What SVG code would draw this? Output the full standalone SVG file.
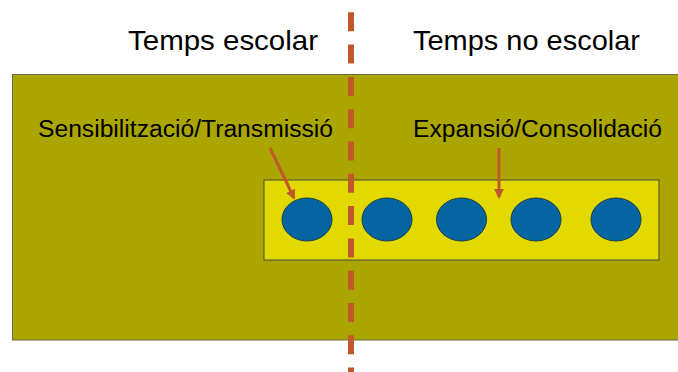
<svg xmlns="http://www.w3.org/2000/svg" width="678" height="372" viewBox="0 0 678 372">
<defs>
<style>
.t{font-family:"Liberation Sans",Arial,sans-serif;fill:#000}
.h{font-size:28px}
.l{font-size:23px}
.dot{fill:#0565A0;stroke:#1a3a4a;stroke-width:1}
.arr{stroke:#C0582A;stroke-width:3;fill:none}
</style>
<marker id="ah" viewBox="0 0 10 10" refX="8" refY="5" markerWidth="3.3" markerHeight="3.3" orient="auto"><path d="M0,0 L10,5 L0,10 z" fill="#C0582A"/></marker>
</defs>
<rect width="678" height="372" fill="#fff"/>
<g id="background">
<rect x="12.5" y="74.5" width="680" height="265.5" fill="#ABA500" stroke="#6b6a50" stroke-width="1"/>
</g>
<g id="band">
<rect x="264" y="180" width="395" height="80" fill="#E1D900" stroke="#4a4a30" stroke-width="1"/>
</g>
<g id="circles">
<ellipse class="dot" cx="307" cy="219.5" rx="25" ry="21.5"/>
<ellipse class="dot" cx="387" cy="219.5" rx="25" ry="21.5"/>
<ellipse class="dot" cx="461.5" cy="219.5" rx="25" ry="21.5"/>
<ellipse class="dot" cx="536" cy="219.5" rx="25" ry="21.5"/>
<ellipse class="dot" cx="616" cy="219.5" rx="25" ry="21.5"/>
</g>
<g id="labels">
<text class="t h" x="128" y="50" textLength="190" lengthAdjust="spacingAndGlyphs">Temps escolar</text>
<text class="t h" x="413" y="50" textLength="227" lengthAdjust="spacingAndGlyphs">Temps no escolar</text>
<text class="t l" x="38" y="137" textLength="295" lengthAdjust="spacingAndGlyphs">Sensibilització/Transmissió</text>
<text class="t l" x="413" y="137" textLength="249" lengthAdjust="spacingAndGlyphs">Expansió/Consolidació</text>
</g>
<g id="connectors">
<line x1="351" y1="12.3" x2="351" y2="372" stroke="#C0582A" stroke-width="6" stroke-dasharray="19 13.3"/>
<line class="arr" x1="270" y1="148" x2="294" y2="198" marker-end="url(#ah)"/>
<line class="arr" x1="499" y1="148" x2="499" y2="197" marker-end="url(#ah)"/>
</g>
</svg>
